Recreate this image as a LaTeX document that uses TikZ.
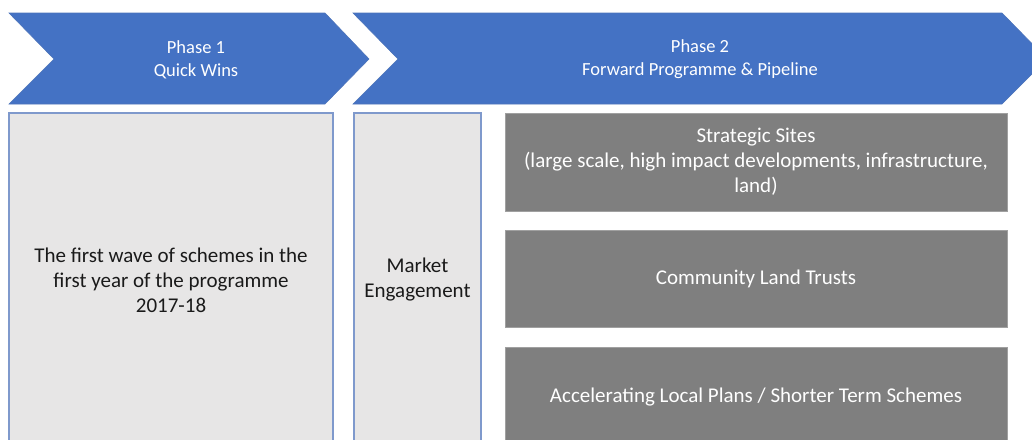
\documentclass[tikz,border=0pt]{standalone}
\usepackage{fontspec}
\setmainfont{Carlito}
\definecolor{phaseblue}{HTML}{4472C4}
\definecolor{lightfill}{HTML}{E7E6E6}
\definecolor{lightedge}{HTML}{7F99CC}
\definecolor{darkfill}{HTML}{7F7F7F}
\definecolor{darkedge}{HTML}{A0A0A0}
\definecolor{bodytext}{HTML}{1A1A1A}
\tikzset{
  chevron/.style={fill=phaseblue, draw=phaseblue!85!gray, line width=0.6pt},
  phasetext/.style={text=white, align=center, font=\fontsize{18.5}{23}\selectfont, inner sep=0pt},
  lightbox/.style={fill=lightfill, draw=lightedge, line width=1.1pt, align=center,
    text=bodytext, font=\fontsize{21}{25}\selectfont, inner sep=0pt},
  darkbox/.style={fill=darkfill, draw=darkedge, line width=0.6pt, align=center,
    text=white, font=\fontsize{21}{25}\selectfont, inner sep=0pt,
    minimum width=502pt}
}
\begin{document}
\begin{tikzpicture}[x=1pt,y=-1pt]
\useasboundingbox (0,0) rectangle (1032,439);
\clip (0,0) rectangle (1032,439);
% chevrons
\path[chevron] (9,13) -- (325,13) -- (369,59) -- (325,104) -- (9,104) -- (54,59) -- cycle;
\path[chevron] (353,13) -- (1002,13) -- (1047,59) -- (1002,104) -- (353,104) -- (398,59) -- cycle;
\node[phasetext] (ph1) at (196,59.5) {Phase 1\\Quick Wins};
\node[phasetext] (ph2) at (700,59.5) {Phase 2\\Forward Programme \& Pipeline};
% boxes
\node[lightbox, minimum width=324pt, minimum height=334pt] (wave) at (171,280)
  {The first wave of schemes in the\\first year of the programme\\2017-18};
\node[lightbox, minimum width=127pt, minimum height=334pt] (market) at (417.5,280)
  {Market\\Engagement};
\node[darkbox, minimum height=98pt] (strat) at (756,162)
  {Strategic Sites\\(large scale, high impact developments, infrastructure,\\land)};
\node[darkbox, minimum height=97pt] (clt) at (756,278.5)
  {Community Land Trusts};
\node[darkbox, minimum height=100pt] (accel) at (756,397)
  {Accelerating Local Plans / Shorter Term Schemes};
\end{tikzpicture}
\end{document}
